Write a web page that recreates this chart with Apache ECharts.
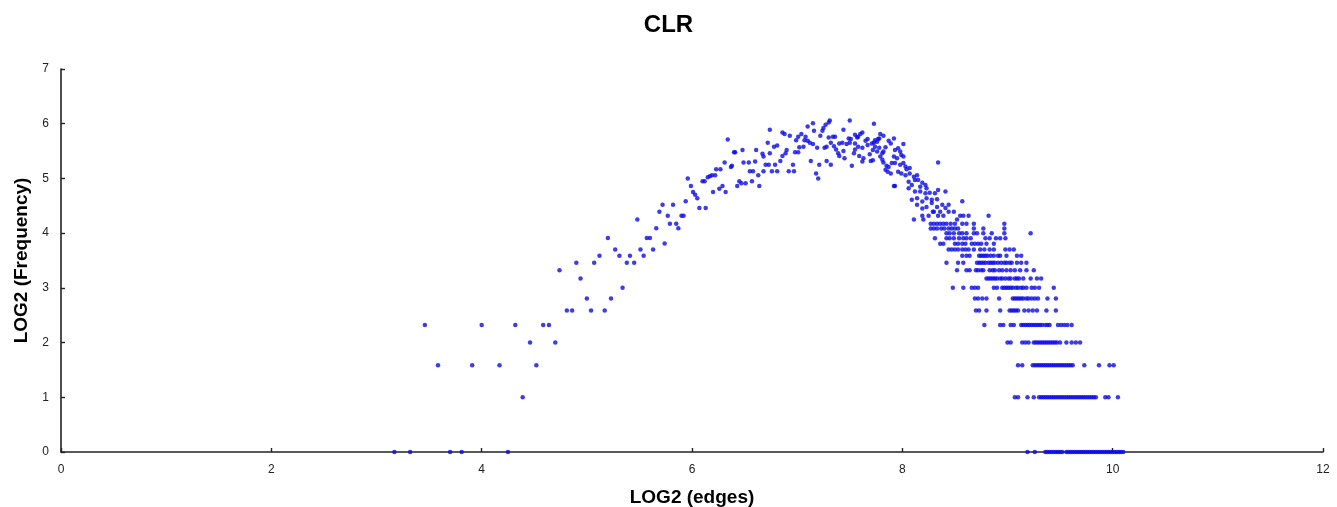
<!DOCTYPE html>
<html><head><meta charset="utf-8">
<script src="https://cdn.jsdelivr.net/npm/echarts@6/dist/echarts.min.js"></script>
<style>html,body{margin:0;padding:0;background:#fff}#c{width:1337px;height:507px}</style>
</head><body><div id="c"></div>
<script>
// x = LOG2(edges), y = LOG2(frequency)
const xTicks = [0, 2, 4, 6, 8, 10, 12];
const yTicks = [0, 1, 2, 3, 4, 5, 6, 7];

const sparseLeft = [
[3.17,0],[3.32,0],[3.70,0],[3.81,0],[4.25,0],
[4.39,1],
[3.585,1.585],[3.91,1.585],[4.17,1.585],[4.52,1.585],
[4.46,2],[4.70,2],
[3.46,2.32],[4.0,2.32],[4.32,2.32],[4.585,2.32],[4.64,2.32],
[4.81,2.585],[4.86,2.585],[5.04,2.585],[5.17,2.585],
[5.0,2.807],[5.23,2.807],
[5.34,3.0],[4.94,3.17],[4.74,3.32]
];

const risingArm = [
[4.90,3.46],[5.07,3.46],[5.38,3.46],[5.45,3.46],
[5.12,3.585],[5.31,3.585],[5.41,3.585],[5.54,3.585],
[5.27,3.70],[5.51,3.70],[5.63,3.70],
[5.74,3.81],
[5.20,3.91],[5.57,3.91],[5.60,3.91],
[5.66,4.09],[5.87,4.09],
[5.79,4.17],[5.85,4.17],
[5.48,4.25],
[5.77,4.32],[5.90,4.32],[5.92,4.32],
[5.69,4.39],
[6.07,4.46],[6.13,4.46],
[5.72,4.52],[5.82,4.52],
[5.94,4.585],[6.05,4.64],[6.03,4.70],
[6.01,4.75],[6.20,4.75],[6.32,4.75],[6.26,4.81],
[5.99,4.86],[6.29,4.86],[6.43,4.86],[6.64,4.86],
[6.47,4.91],[6.51,4.91],
[6.10,4.95],[6.12,4.95],[6.45,4.95],[6.57,4.95],
[5.96,5.0],[6.15,5.02],[6.17,5.04],[6.19,5.06],[6.22,5.06],[6.63,5.06],
[6.23,5.17],[6.27,5.17],[6.37,5.21],[6.38,5.23],
[6.31,5.29],[6.49,5.29],[6.54,5.29],[6.60,5.31],
[6.34,5.71],[6.40,5.48],[6.41,5.48],[6.48,5.52],[6.61,5.52],
[6.55,5.13],[6.58,5.13]
];

const peakCluster = [
[6.67,5.45],[6.68,5.40],[6.68,5.13],[6.70,5.25],[6.73,5.25],[6.79,5.25],[6.72,5.65],[6.74,5.89],
[6.74,5.46],[6.76,5.13],[6.81,5.13],[6.78,5.58],[6.81,5.60],[6.84,5.32],[6.86,5.84],[6.88,5.81],
[6.86,5.41],[6.90,5.52],[6.89,5.46],[6.92,5.13],[6.97,5.13],[6.93,5.78],[6.96,5.25],[6.98,5.48],
[7.01,5.48],[6.99,5.70],[7.01,5.76],[7.02,5.57],[7.04,5.81],[7.06,5.58],[7.07,5.70],[7.08,5.76],
[7.10,5.95],[7.10,5.69],[7.12,5.65],[7.13,5.32],[7.15,6.01],[7.15,5.63],[7.16,5.87],[7.18,5.09],
[7.19,5.56],[7.20,5.0],[7.21,5.25],[7.22,5.78],[7.24,5.87],[7.25,5.92],[7.27,5.98],[7.30,6.02],
[7.31,6.06],[7.26,5.56],[7.28,5.58],[7.28,5.32],[7.30,5.75],[7.32,5.65],[7.32,5.25],[7.34,5.76],
[7.36,5.76],[7.35,5.59],[7.37,5.53],[7.39,5.46],[7.40,5.64],[7.43,5.65],[7.40,5.41],[7.44,5.89],
[7.44,5.50],[7.45,5.37],[7.47,5.63],[7.49,5.73],[7.51,5.72],[7.50,6.06],[7.52,5.23],[7.54,5.46],
[7.55,5.53],[7.55,5.80],[7.57,5.75],[7.58,5.76],[7.60,5.81],[7.62,5.84],[7.58,5.58],[7.62,5.56],
[7.59,5.41],[7.62,5.31],[7.63,5.37],[7.65,5.69],[7.67,5.72],[7.67,5.61],[7.69,5.44],[7.70,5.32],
[7.71,5.64],[7.73,5.65],[7.74,5.70],[7.76,5.67],[7.77,5.72],[7.78,5.73],[7.73,6.0],[7.72,5.52],
[7.74,5.58],[7.76,5.49],[7.78,5.56],[7.72,5.33],[7.50,5.65],[7.55,5.64]
];

const fallingArm = [
[7.79,5.81],[7.82,5.78],[7.92,5.73],[7.87,5.69],[7.89,5.64],[7.84,5.57],[7.82,5.49],[7.81,5.46],[8.01,5.63],
[7.93,5.52],[7.96,5.55],[7.98,5.49],[7.92,5.40],[7.95,5.37],[7.99,5.43],[8.01,5.40],
[7.79,5.40],[7.81,5.34],[7.82,5.29],[7.85,5.23],[7.87,5.21],[7.84,5.16],[7.86,5.12],[7.89,5.09],
[7.90,5.28],[7.93,5.28],[7.98,5.25],[8.01,5.28],[8.03,5.22],[8.04,5.17],[8.07,5.19],
[7.96,5.12],[7.99,5.09],[8.03,5.06],[8.07,5.09],[8.11,5.03],[8.14,5.06],
[7.92,4.86],[7.93,4.86],
[8.06,4.94],[8.09,4.88],[8.12,4.97],[8.15,4.97],[8.19,4.92],[8.17,4.85],[8.22,4.88],[8.23,4.82],
[8.34,5.29],
[8.06,4.82],[8.12,4.76],[8.17,4.76],[8.22,4.73],[8.26,4.74],[8.31,4.73],[8.34,4.79],
[8.09,4.61],[8.14,4.64],[8.19,4.58],[8.23,4.64],[8.28,4.61],[8.33,4.62],
[8.41,4.76],
[8.14,4.52],[8.19,4.45],[8.23,4.48],[8.28,4.55],[8.33,4.48],[8.38,4.52],[8.44,4.52],
[8.11,4.25],[8.19,4.32],[8.25,4.32],[8.30,4.39],[8.34,4.32],[8.39,4.32],[8.44,4.39],[8.49,4.39],[8.52,4.25],
[8.20,4.25],[8.29,4.39],[8.36,4.39],[8.41,4.46],[8.57,4.585],[8.55,4.32],[8.58,4.32],[8.63,4.32],[8.82,4.32]
];

// banded lower-right part: one list of x positions per frequency level
const bandLevels = [0, 1, 1.585, 2, 2.32, 2.585, 2.807, 3, 3.17, 3.32, 3.46, 3.585, 3.70, 3.807, 3.907, 4, 4.087, 4.17];
const bandRows = [
[9.19,9.26,9.36,9.38,9.40,9.42,9.44,9.46,9.48,9.50,9.52,9.56,9.58,9.60,9.62,9.64,9.66,9.68,9.70,9.72,9.74,9.76,9.78,9.80,9.82,9.84,9.86,9.88,9.90,9.92,9.94,9.96,9.98,10.00,10.02,10.04,10.06,10.08,10.10],
[9.07,9.10,9.19,9.25,9.30,9.32,9.34,9.36,9.38,9.40,9.42,9.44,9.46,9.48,9.50,9.52,9.54,9.56,9.58,9.60,9.62,9.64,9.66,9.68,9.70,9.72,9.74,9.76,9.78,9.80,9.82,9.84,9.93,9.96,10.05],
[9.10,9.14,9.24,9.26,9.28,9.30,9.32,9.34,9.36,9.38,9.40,9.42,9.44,9.46,9.48,9.50,9.52,9.54,9.56,9.58,9.60,9.62,9.73,9.87,9.97,10.01],
[9.00,9.03,9.14,9.17,9.20,9.25,9.27,9.29,9.31,9.33,9.35,9.37,9.39,9.41,9.43,9.45,9.47,9.50,9.56,9.61,9.65,9.69],
[8.78,8.93,8.96,9.03,9.06,9.13,9.15,9.17,9.19,9.21,9.23,9.25,9.27,9.29,9.31,9.33,9.36,9.38,9.40,9.48,9.51,9.54,9.57,9.61],
[8.70,8.73,8.80,8.93,9.02,9.04,9.06,9.08,9.10,9.16,9.20,9.24,9.28,9.37,9.46],
[8.69,8.72,8.76,8.80,8.92,9.05,9.07,9.09,9.11,9.13,9.15,9.18,9.20,9.23,9.26,9.29,9.38,9.46],
[8.48,8.58,8.66,8.69,8.72,8.87,8.90,8.95,8.97,8.99,9.01,9.03,9.05,9.08,9.10,9.13,9.15,9.18,9.23,9.26,9.30,9.44],
[8.80,8.82,8.84,8.86,8.88,8.90,8.93,8.95,8.98,9.01,9.03,9.07,9.09,9.11,9.15,9.22,9.28,9.32],
[8.52,8.61,8.64,8.70,8.72,8.75,8.77,8.83,8.86,8.88,8.92,8.95,8.99,9.03,9.07,9.12,9.18,9.25],
[8.42,8.53,8.58,8.71,8.73,8.75,8.77,8.79,8.82,8.84,8.86,8.88,8.91,8.94,8.97,8.99,9.02,9.04,9.09,9.13,9.18],
[8.57,8.61,8.64,8.73,8.75,8.77,8.79,8.81,8.84,8.87,8.91,8.93,8.99,9.09,9.13],
[8.44,8.47,8.50,8.53,8.57,8.60,8.63,8.68,8.74,8.78,8.83,8.87,8.98,9.02,9.06],
[8.36,8.39,8.50,8.53,8.57,8.60,8.66,8.69,8.72,8.75,8.80,8.87],
[8.31,8.42,8.45,8.49,8.54,8.58,8.61,8.65,8.79,8.83,8.89,8.93,8.98],
[8.42,8.45,8.49,8.54,8.57,8.61,8.68,8.71,8.77,8.85,8.97,9.22],
[8.27,8.30,8.33,8.37,8.40,8.44,8.47,8.50,8.53,8.68,8.77,8.97],
[8.27,8.30,8.33,8.36,8.39,8.42,8.46,8.50,8.57,8.61,8.68,8.97]
];

const bandPoints = [];
bandRows.forEach((row, i) => row.forEach(x => bandPoints.push([x, bandLevels[i]])));
const allPoints = [].concat(sparseLeft, risingArm, peakCluster, fallingArm, bandPoints);

const chart = echarts.init(document.getElementById('c'), null, {renderer: 'canvas'});
const FONT = '"Liberation Sans", Arial, sans-serif';
chart.setOption({
  animation: false,
  backgroundColor: '#ffffff',
  title: {
    text: 'CLR', left: 'center', top: 8,
    textStyle: {fontFamily: FONT, fontSize: 24, fontWeight: 'bold', color: '#000'}
  },
  grid: {left: 61, right: 14, top: 69, bottom: 55, containLabel: false, outerBoundsMode: 'none'},
  xAxis: {
    type: 'value', min: xTicks[0], max: xTicks[xTicks.length - 1], interval: 2,
    name: 'LOG2 (edges)', nameLocation: 'middle', nameGap: 36,
    nameTextStyle: {fontFamily: FONT, fontSize: 19, fontWeight: 'bold', color: '#000'},
    axisLine: {lineStyle: {color: '#222', width: 1.6}},
    axisTick: {inside: true, length: 4, lineStyle: {color: '#222', width: 1.4}},
    axisLabel: {fontFamily: FONT, fontSize: 12, color: '#222', margin: 12},
    splitLine: {show: false}
  },
  yAxis: {
    type: 'value', min: yTicks[0], max: yTicks[yTicks.length - 1], interval: 1,
    name: 'LOG2 (Frequency)', nameLocation: 'middle', nameGap: 29,
    nameTextStyle: {fontFamily: FONT, fontSize: 19, fontWeight: 'bold', color: '#000'},
    axisLine: {show: true, lineStyle: {color: '#222', width: 1.6}},
    axisTick: {show: true, inside: true, length: 4, lineStyle: {color: '#222', width: 1.4}},
    axisLabel: {fontFamily: FONT, fontSize: 12, color: '#222', margin: 12},
    splitLine: {show: false}
  },
  series: [{
    type: 'scatter', data: allPoints, symbol: 'circle', symbolSize: 4.5,
    itemStyle: {color: '#0b0be8'}
  }]
});
</script></body></html>
